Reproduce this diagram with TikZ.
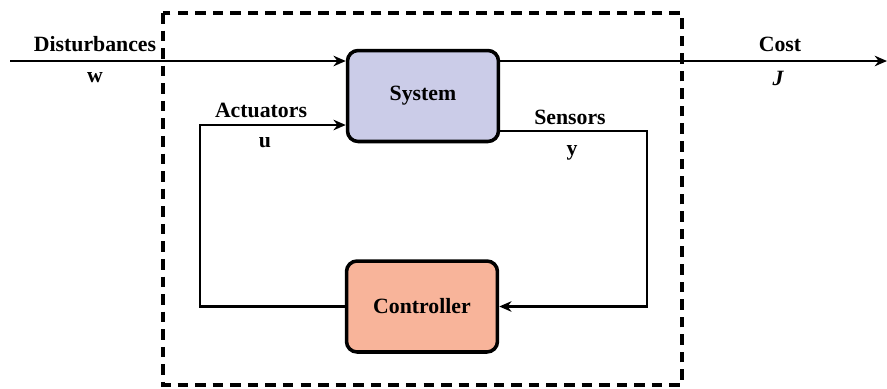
\documentclass[tikz,border=0pt]{standalone}
\usepackage{fontspec}
\setmainfont{Liberation Serif}
\usetikzlibrary{arrows.meta}
\definecolor{syscol}{HTML}{CBCCE8}
\definecolor{ctrlcol}{HTML}{F8B49A}
\tikzset{
  blockbox/.style={draw=black, line width=2pt, rounded corners=6pt, minimum width=3.02cm, minimum height=1.82cm, font=\bfseries\fontsize{12.4}{15}\selectfont},
  sigline/.style={line width=1.6pt, -{Stealth[length=7pt,width=6pt]}},
  siglabel/.style={font=\bfseries\fontsize{12.4}{15}\selectfont, inner sep=0pt}
}
\begin{document}
\begin{tikzpicture}[x=0.02cm,y=-0.02cm]
\useasboundingbox (0,0) rectangle (887,389);
\draw [line width=1.8pt, dash pattern=on 6pt off 4pt] (163,13) rectangle (682,385);
\node [blockbox, fill=syscol] (sys) at (423,96) {System};
\node [blockbox, fill=ctrlcol] (ctrl) at (422,306.5) {Controller};
\coordinate (win) at (10,61);
\coordinate (jout) at (887,61);
\draw [sigline] (win) -- (win -| sys.west);
\draw [sigline] (jout -| sys.east) -- (jout);
\draw [sigline] (ctrl.west) -- (200,306.5) -- (200,125) -- (sys.west |- 0,125);
\draw [sigline] (sys.east |- 0,131) -- (647,131) -- (647,306.5) -- (ctrl.east);
\draw node [siglabel] at (95,44) {Disturbances};
\draw node [siglabel] at (95,78) {w};
\draw node [siglabel] at (261,110) {Actuators};
\draw node [siglabel] at (265,143) {u};
\draw node [siglabel] at (570,117) {Sensors};
\draw node [siglabel] at (572,153) {y};
\draw node [siglabel] at (780,44) {Cost};
\draw node [siglabel] at (778,78) {\itshape J};
\end{tikzpicture}
\end{document}
